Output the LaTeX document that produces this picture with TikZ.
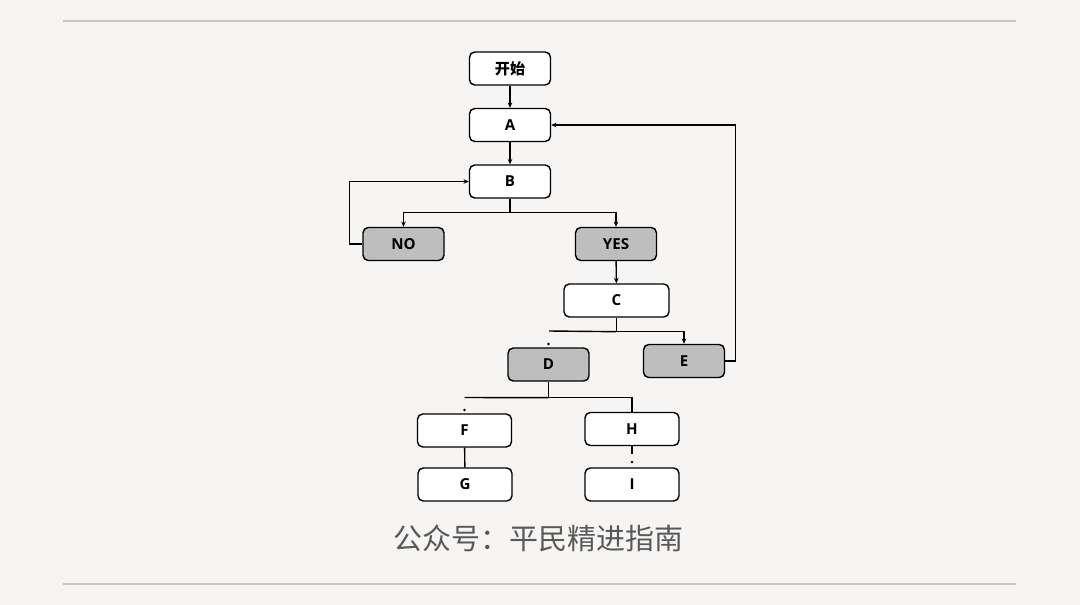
\documentclass[tikz,border=0pt]{standalone}
\usepackage{fontspec}
\setsansfont{Open Sans}
\newfontfamily\cjk{Noto Sans CJK SC}
\usetikzlibrary{arrows.meta}
\definecolor{pagebg}{HTML}{F6F5F3}
\definecolor{rulegray}{HTML}{C8C8C8}
\definecolor{boxgray}{HTML}{BEBEBE}
\definecolor{footgray}{HTML}{595959}

\begin{document}
\begin{tikzpicture}[
    x=0.02cm, y=-0.02cm,
    box/.style={draw, line width=0.8pt, rounded corners=3pt, fill=white, minimum width=81*0.02cm, minimum height=33*0.02cm, inner sep=0pt, font=\sffamily\bfseries\fontsize{8.6}{10}\selectfont},
    wide/.style={box, minimum width=94*0.02cm},
    grey/.style={box, fill=boxgray},
    link/.style={line width=0.8pt},
    arrow/.style={link, -{Stealth[length=3pt, width=2.6pt]}}
  ]
    % page
    \fill[pagebg] (0,0) rectangle (1080,605);
    \draw[rulegray, line width=0.6pt] (63,21) -- (1016,21);
    \draw[rulegray, line width=0.6pt] (63,584) -- (1016,584);

    % upper part
    \node[box] (start) at (510,68.5) {\cjk\bfseries 开始};
    \node[box] (a) at (510,125) {A};
    \node[box] (b) at (510,181.5) {B};
    \node[grey] (no) at (403.5,244) {NO};
    \node[grey] (yes) at (616,244) {YES};

    % middle part
    \node[box, minimum width=105*0.02cm] (c) at (616.5,300.5) {C};
    \node[grey] (d) at (548.5,364.5) {D};
    \node[grey] (e) at (684,361) {E};

    % lower part
    \node[wide] (f) at (464.5,430.5) {F};
    \node[wide] (h) at (632,429) {H};
    \node[wide] (g) at (465,484.5) {G};
    \node[wide] (i) at (632,484.5) {I};

    % footer
    \node[font=\cjk\fontsize{16.5}{18}\selectfont, text=footgray] (foot) at (538.5,538) {公众号：平民精进指南};

    % edges
    \draw[arrow] (start) -- (a);
    \draw[arrow] (a) -- (b);
    \draw[arrow] (b.south) -- ++(0,14) -| (no.north);
    \draw[arrow] (b.south) -- ++(0,14) -| (yes.north);
    \draw[arrow] (no.west) -- ++(-13,0) |- (b.west);
    \draw[arrow] (yes) -- (c);
    \draw[arrow] (c.south) -- ++(0,14) -| (e.north);
    \draw[link] (c.south) ++(0,14) coordinate (cfork) -- (549,331);
    \fill (548.5,344) circle (1.4);
    \draw[arrow] (e.east) -- ++(10,0) |- (a.east);
    \draw[link] (d.south) -- ++(0,16) coordinate (dfork) -| (h.north);
    \draw[link] (dfork) -- (464.5,397.5);
    \fill (464.5,410) circle (1.4);
    \draw[link] (f) -- (g);
    \draw[link] (h.south) -- ++(0,8);
    \fill (632,462) circle (1.4);
  \end{tikzpicture}
\end{document}
